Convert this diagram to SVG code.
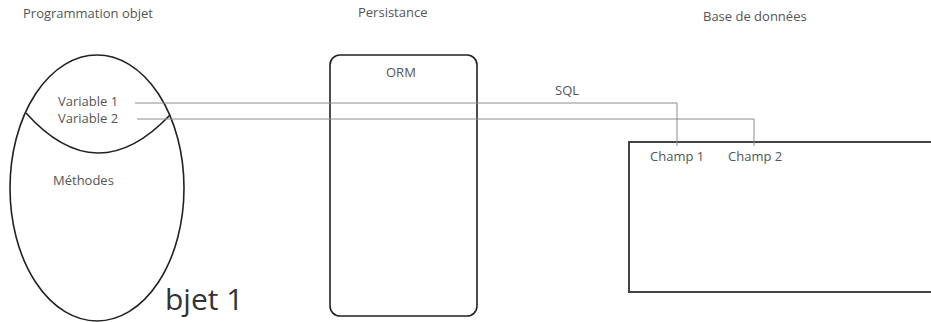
<svg xmlns="http://www.w3.org/2000/svg" width="931" height="322" viewBox="0 0 931 322">
<style>
text{font-family:"Open Sans","Liberation Sans",Arial,sans-serif;font-size:13px;fill:#555}
.big{font-size:30px;fill:#333}
.conn{fill:none;stroke:#8c8c8c;stroke-width:1}
.shape{fill:none;stroke:#222;stroke-width:1.6}
</style>
<rect width="931" height="322" fill="#fff"/>
<text x="23" y="18">Programmation objet</text>
<text x="358" y="17">Persistance</text>
<text x="703" y="21">Base de données</text>
<g id="objet">
<ellipse class="shape" cx="97" cy="188" rx="87" ry="133"/>
<path class="shape" d="M26,113 Q97,192 170,115"/>
<text x="58" y="106">Variable 1</text>
<text x="58" y="123">Variable 2</text>
<text x="53" y="185">Méthodes</text>
<text class="big" x="165" y="310">bjet 1</text>
</g>
<g id="orm">
<rect class="shape" x="330" y="55" width="147" height="261" rx="10"/>
<text x="386" y="77">ORM</text>
</g>
<g id="bdd">
<rect x="629" y="142" width="320" height="150" fill="none" stroke="#444" stroke-width="2"/>
<text x="650" y="161">Champ 1</text>
<text x="728" y="161">Champ 2</text>
</g>
<g id="connectors">
<polyline class="conn" points="135,103 677,103 677,146"/>
<polyline class="conn" points="137,119 754,119 754,146"/>
<text x="555" y="95">SQL</text>
</g>
</svg>
